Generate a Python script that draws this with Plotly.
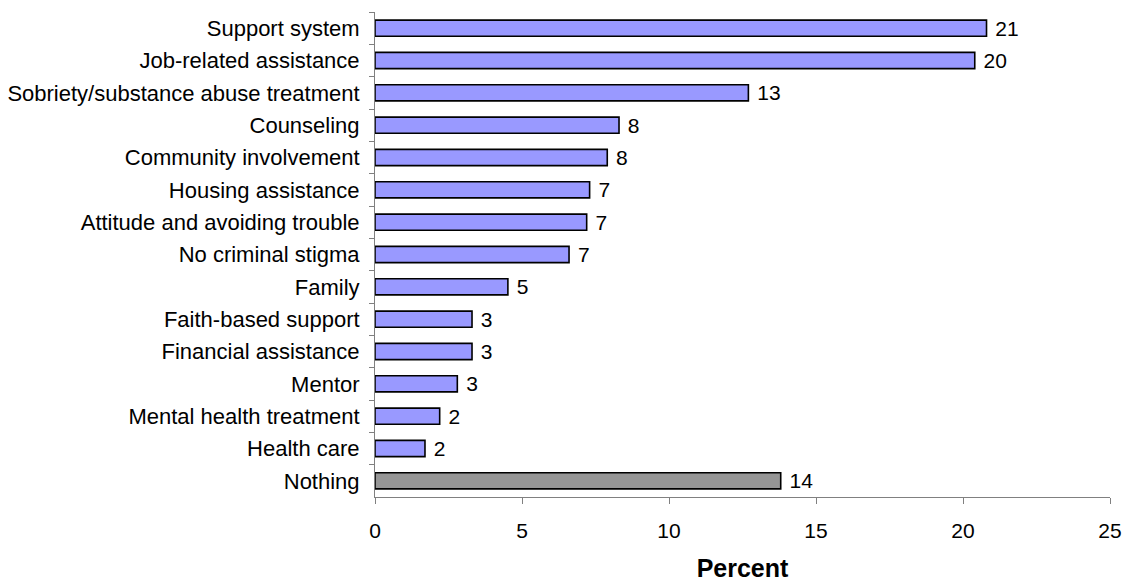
import plotly.graph_objects as go

# Responses, listed top to bottom
categories = [
    "Support system",
    "Job-related assistance",
    "Sobriety/substance abuse treatment",
    "Counseling",
    "Community involvement",
    "Housing assistance",
    "Attitude and avoiding trouble",
    "No criminal stigma",
    "Family",
    "Faith-based support",
    "Financial assistance",
    "Mentor",
    "Mental health treatment",
    "Health care",
    "Nothing",
]
percent = [20.8, 20.4, 12.7, 8.3, 7.9, 7.3, 7.2, 6.6, 4.52, 3.3, 3.3, 2.8, 2.2, 1.7, 13.8]
bar_colors = ["#9999FF"] * 14 + ["#969696"]

x_ticks = [0, 5, 10, 15, 20, 25]

FONT = "Liberation Sans, Arial, sans-serif"

fig = go.Figure(
    go.Bar(
        x=percent,
        y=categories,
        orientation="h",
        marker=dict(color=bar_colors, line=dict(color="#000000", width=1.6)),
        texttemplate=" %{x:.0f}",
        textposition="outside",
        constraintext="none",
        cliponaxis=False,
        outsidetextfont=dict(family=FONT, size=21, color="#000000"),
        hoverinfo="skip",
    )
)

fig.update_layout(
    width=1123,
    height=582,
    margin=dict(l=375, r=13, t=12, b=85),
    paper_bgcolor="white",
    plot_bgcolor="white",
    bargap=0.5,
    showlegend=False,
    font=dict(family=FONT, color="#000000"),
)

fig.update_xaxes(
    range=[0, 25],
    tickvals=x_ticks,
    ticks="outside",
    ticklen=6,
    tickcolor="#808080",
    showline=True,
    linecolor="#808080",
    linewidth=1,
    showgrid=False,
    zeroline=False,
    automargin=False,
    tickfont=dict(family=FONT, size=21),
    ticklabelstandoff=9,
    title=dict(text="<b>Percent</b>", font=dict(family=FONT, size=25), standoff=21),
)

fig.update_yaxes(
    categoryorder="array",
    categoryarray=categories,
    autorange="reversed",
    ticks="outside",
    tickson="boundaries",
    ticklen=5,
    tickcolor="#808080",
    showline=True,
    linecolor="#808080",
    linewidth=1,
    showgrid=False,
    automargin=False,
    tickfont=dict(family=FONT, size=22),
    ticklabelstandoff=10,
)

fig.write_html("out.html")
